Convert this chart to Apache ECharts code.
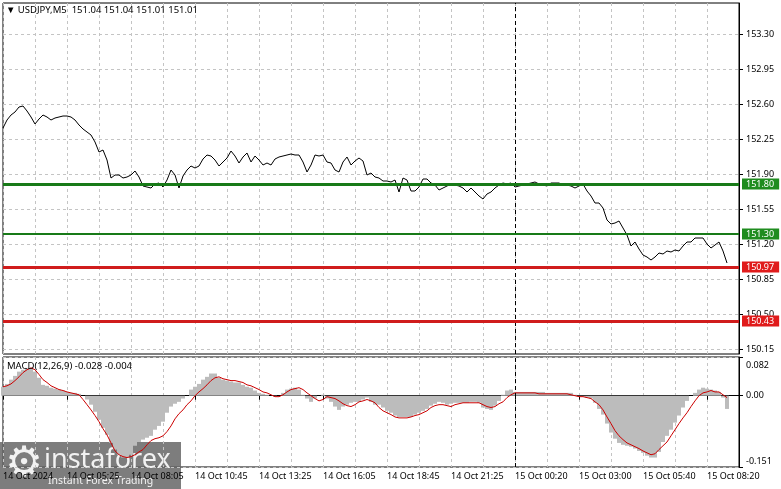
<!DOCTYPE html>
<html>
<head>
<meta charset="utf-8">
<script src="https://cdn.jsdelivr.net/npm/echarts@6.0.0/dist/echarts.min.js"></script>
<style>
html,body{margin:0;padding:0;background:#fff;}
#chart{width:781px;height:489px;}
</style>
</head>
<body>
<div id="chart"></div>
<script>
// ---- data (10-minute samples, 2 M5 bars each) ----
const symbolTitle = 'USDJPY,M5';
const ohlc = [151.04, 151.04, 151.01, 151.01];
const macdTitle = 'MACD(12,26,9)';
const macdLast = [-0.028, -0.004];

const timeLabels = ['14 Oct 2024','14 Oct 05:25','14 Oct 08:05','14 Oct 10:45','14 Oct 13:25','14 Oct 16:05',
  '14 Oct 18:45','14 Oct 21:25','15 Oct 00:20','15 Oct 03:00','15 Oct 05:40','15 Oct 08:20'];
const labelEvery = 16;
const gridEvery = 8;
const slotCount = 185;
const separatorIndex = 128;

const priceTicks = [150.15, 150.50, 150.85, 151.20, 151.55, 151.90, 152.25, 152.60, 152.95, 153.30];
const macdTicks = [-0.151, 0, 0.082];

const prices = [
152.36,152.44,152.49,152.52,152.57,152.58,152.53,152.47,152.40,152.45,
152.49,152.47,152.44,152.46,152.47,152.48,152.48,152.47,152.44,152.39,
152.35,152.32,152.29,152.22,152.12,152.14,152.04,151.86,151.89,151.89,
151.86,151.87,151.89,151.93,151.87,151.78,151.77,151.76,151.80,151.81,
151.77,151.84,151.94,151.89,151.76,151.88,151.94,151.98,151.96,151.98,
152.05,152.09,152.08,152.04,151.98,152.02,152.06,152.13,152.08,152.01,
152.07,152.11,152.02,152.08,152.04,151.99,152.01,151.99,152.05,152.07,
152.08,152.09,152.10,152.09,152.09,152.02,151.92,151.99,152.09,152.08,
152.09,152.02,152.01,151.94,151.92,152.02,152.07,151.99,152.03,152.06,
152.03,151.89,151.91,151.87,151.86,151.83,151.83,151.82,151.84,151.72,
151.86,151.84,151.73,151.73,151.77,151.85,151.85,151.81,151.79,151.74,
151.76,151.78,151.80,151.79,151.78,151.76,151.72,151.76,151.72,151.68,
151.65,151.70,151.72,151.76,151.79,151.81,151.80,151.81,151.77,151.78,
151.79,151.80,151.81,151.82,151.80,151.79,151.78,151.81,151.81,151.81,
151.79,151.79,151.78,151.76,151.78,151.80,151.73,151.68,151.61,151.61,
151.56,151.44,151.40,151.41,151.43,151.36,151.29,151.18,151.22,151.15,
151.09,151.07,151.04,151.07,151.11,151.10,151.13,151.12,151.14,151.13,
151.18,151.22,151.22,151.26,151.26,151.26,151.20,151.16,151.19,151.22,
151.13,151.01];

const macdMain = [
0.019,0.025,0.034,0.042,0.051,0.055,0.059,0.059,0.051,0.038,
0.023,0.021,0.017,0.015,0.013,0.011,0.008,0.006,0.006,0.004,
0,-0.008,-0.019,-0.034,-0.051,-0.068,-0.083,-0.100,-0.114,-0.125,
-0.131,-0.131,-0.125,-0.106,-0.098,-0.093,-0.089,-0.085,-0.072,-0.064,
-0.055,-0.036,-0.023,-0.017,-0.013,-0.006,0,0.013,0.019,0.025,
0.034,0.040,0.047,0.047,0.038,0.034,0.032,0.030,0.028,0.028,
0.023,0.019,0.017,0.011,0.006,0.004,0.002,0,-0.002,0,
0.006,0.013,0.015,0.017,0.013,0.002,-0.006,-0.013,-0.006,0,
0.002,-0.006,-0.013,-0.023,-0.030,-0.023,-0.019,-0.015,-0.013,-0.013,
-0.008,-0.004,-0.013,-0.019,-0.019,-0.025,-0.032,-0.036,-0.042,-0.045,
-0.045,-0.045,-0.045,-0.040,-0.036,-0.032,-0.028,-0.021,-0.017,-0.013,
-0.015,-0.019,-0.017,-0.015,-0.015,-0.015,-0.015,-0.013,-0.013,-0.015,
-0.025,-0.028,-0.030,-0.021,-0.011,0.002,0.011,0.013,0.008,0.008,
0.008,0.008,0.008,0.008,0.008,0.008,0.006,0.006,0.006,0.006,
0.006,0.006,0.006,0.002,-0.002,-0.002,-0.004,-0.006,-0.015,-0.028,
-0.040,-0.059,-0.078,-0.091,-0.100,-0.104,-0.106,-0.108,-0.112,-0.117,
-0.121,-0.127,-0.131,-0.131,-0.119,-0.098,-0.085,-0.072,-0.057,-0.042,
-0.025,-0.011,0,0.006,0.013,0.017,0.015,0.013,0.011,0.008,
-0.004,-0.028];

const macdSignal = [
0.019,0.021,0.025,0.032,0.040,0.049,0.055,0.059,0.055,0.045,
0.034,0.028,0.021,0.017,0.013,0.011,0.008,0.006,0.004,0.002,
-0.008,-0.019,-0.030,-0.042,-0.055,-0.070,-0.083,-0.100,-0.117,-0.125,
-0.129,-0.131,-0.129,-0.125,-0.119,-0.114,-0.104,-0.095,-0.091,-0.089,
-0.085,-0.076,-0.064,-0.049,-0.038,-0.030,-0.019,-0.011,0,0.008,
0.015,0.023,0.032,0.038,0.040,0.036,0.034,0.032,0.032,0.030,
0.028,0.023,0.021,0.017,0.013,0.008,0.006,0.002,-0.002,-0.002,
0.002,0.008,0.013,0.015,0.017,0.013,0.006,0,-0.006,-0.011,
-0.008,-0.002,-0.004,-0.006,-0.011,-0.017,-0.021,-0.023,-0.019,-0.013,
-0.011,-0.008,-0.011,-0.015,-0.025,-0.032,-0.036,-0.040,-0.045,-0.047,
-0.047,-0.047,-0.045,-0.042,-0.040,-0.036,-0.032,-0.025,-0.021,-0.019,
-0.019,-0.021,-0.023,-0.019,-0.017,-0.015,-0.015,-0.015,-0.015,-0.015,
-0.019,-0.023,-0.025,-0.023,-0.017,-0.013,-0.004,0.002,0.006,0.006,
0.006,0.006,0.006,0.006,0.004,0.004,0.004,0.004,0.004,0.004,
0.004,0.004,0.002,0,-0.002,-0.002,-0.004,-0.006,-0.013,-0.019,
-0.030,-0.045,-0.059,-0.074,-0.085,-0.093,-0.100,-0.104,-0.108,-0.112,
-0.117,-0.121,-0.125,-0.123,-0.114,-0.106,-0.098,-0.085,-0.072,-0.059,
-0.047,-0.036,-0.023,-0.011,0,0.006,0.008,0.011,0.008,0.008,
0.002,-0.004];

const priceAxis = {min: 150.10, max: 153.61};
const macdAxis = {min: -0.151, max: 0.082};

const levelValues = [151.80, 151.30, 150.97, 150.43];
const levelKinds = ['green', 'green', 'red', 'red'];
const levelWidths = [3, 2, 3, 3];
const bidValue = 151.01;

// ---- build ----
const categories = Array.from({length: slotCount}, (_, i) => String(i));
const FONT = 'Noto Sans';
const kindLine = {green: '#187a18', red: '#d01c1c'};
const kindBox = {green: '#1f8c1f', red: '#e01b1b'};

function tagLabel(bg) {
  return {
    show: true, position: 'end', distance: 3,
    formatter: p => Number(p.value).toFixed(2),
    color: '#fff', backgroundColor: bg, padding: [1, 5, 0, 4],
    fontFamily: FONT, fontSize: 9, lineHeight: 10
  };
}

const levelMarks = [{
  yAxis: bidValue,
  lineStyle: {opacity: 0},
  label: tagLabel('#000')
}];
levelValues.forEach((v, i) => {
  levelMarks.push({
    yAxis: v,
    lineStyle: {color: kindLine[levelKinds[i]], width: levelWidths[i], type: 'solid'},
    label: tagLabel(kindBox[levelKinds[i]])
  });
});
const sepMark = {
  xAxis: categories[separatorIndex],
  lineStyle: {color: '#000', width: 1, type: [4, 3]},
  label: {show: false}
};

const dashed = {show: true, lineStyle: {color: '#c4c4c4', type: [3, 3], width: 1}};
const vSplit = {show: true, interval: (i) => i % gridEvery === 0, lineStyle: dashed.lineStyle};

const chart = echarts.init(document.getElementById('chart'), null, {renderer: 'canvas'});
chart.setOption({
  animation: false,
  backgroundColor: '#fff',
  textStyle: {fontFamily: FONT},
  title: [
    {text: '▼ ' + symbolTitle + '  ' + ohlc.map(v => v.toFixed(2)).join(' '),
     left: 6, top: 5, padding: 0,
     textStyle: {fontFamily: FONT, fontSize: 9.5, fontWeight: 'normal', color: '#000'}},
    {text: macdTitle + ' ' + macdLast.map(v => v.toFixed(3)).join(' '),
     left: 7, top: 361, padding: 0,
     textStyle: {fontFamily: FONT, fontSize: 9.5, fontWeight: 'normal', color: '#000'}}
  ],
  grid: [
    {left: 3, top: 3, width: 736, height: 351, show: true, borderColor: '#000', borderWidth: 1, backgroundColor: 'transparent'},
    {left: 3, top: 357, width: 736, height: 110, show: true, borderColor: '#000', borderWidth: 1, backgroundColor: 'transparent'}
  ],
  xAxis: [
    {type: 'category', gridIndex: 0, data: categories, boundaryGap: false,
     axisLine: {show: false}, axisTick: {show: false}, axisLabel: {show: false}, splitLine: vSplit},
    {type: 'category', gridIndex: 1, data: categories, boundaryGap: false,
     axisLine: {show: true, lineStyle: {color: '#000'}},
     axisTick: {show: true, interval: (i) => i % labelEvery === 0, length: 4, lineStyle: {color: '#000'}},
     axisLabel: {show: true, interval: (i) => i % labelEvery === 0, align: 'left', margin: 5,
       formatter: (v, idx) => timeLabels[idx / labelEvery] || '',
       fontFamily: FONT, fontSize: 9, color: '#000'},
     splitLine: vSplit}
  ],
  yAxis: [
    {type: 'value', gridIndex: 0, position: 'right', min: priceAxis.min, max: priceAxis.max,
     axisLine: {show: true, lineStyle: {color: '#000'}},
     axisTick: {show: true, length: 4, customValues: priceTicks, lineStyle: {color: '#000'}},
     axisLabel: {show: true, margin: 7, customValues: priceTicks,
       formatter: v => v.toFixed(2), fontFamily: FONT, fontSize: 9, color: '#000'},
     splitLine: dashed},
    {type: 'value', gridIndex: 1, position: 'right', min: macdAxis.min, max: macdAxis.max,
     axisLine: {show: true, lineStyle: {color: '#000'}},
     axisTick: {show: true, length: 4, customValues: macdTicks, lineStyle: {color: '#000'}},
     axisLabel: {show: true, margin: 7, customValues: macdTicks,
       formatter: v => Math.abs(v) < 1e-9 ? '0.00' : (v > 0 ? '{t|' + v.toFixed(3) + '}' : '{b|' + v.toFixed(3) + '}'),
       rich: {t: {padding: [16, 0, 0, 0], fontFamily: FONT, fontSize: 9, color: '#000'},
              b: {padding: [0, 0, 12, 0], fontFamily: FONT, fontSize: 9, color: '#000'}},
       fontFamily: FONT, fontSize: 9, color: '#000'},
     splitLine: dashed}
  ],
  series: [
    {type: 'line', name: 'price', xAxisIndex: 0, yAxisIndex: 0, data: prices, clip: false,
     showSymbol: false, symbol: 'none', lineStyle: {color: '#000', width: 1}, z: 3,
     markLine: {silent: true, symbol: ['none', 'none'], animation: false, data: [sepMark].concat(levelMarks)}},
    {type: 'bar', name: 'MACD', xAxisIndex: 1, yAxisIndex: 1, data: macdMain, barWidth: '100%',
     itemStyle: {color: '#bcbcbc'}, z: 2,
     markLine: {silent: true, symbol: ['none', 'none'], animation: false, data: [sepMark]}},
    {type: 'line', name: 'Signal', xAxisIndex: 1, yAxisIndex: 1, data: macdSignal,
     showSymbol: false, symbol: 'none', lineStyle: {color: '#cc0000', width: 1}, z: 3}
  ],
  graphic: [
    {type: 'group', z: 100, children: [
      {type: 'rect', shape: {x: 0, y: 442, width: 181, height: 47}, style: {fill: 'rgba(100,100,100,0.84)'}},
      {type: 'text', x: 24, y: 465, style: {text: '⚙', fontFamily: 'DejaVu Sans', fontSize: 42, fill: '#f2f2f2', align: 'center', verticalAlign: 'middle'}},
      {type: 'text', x: 44, y: 474, style: {text: 'instaforex', fontFamily: FONT, fontSize: 27, fill: '#f2f2f2', align: 'left', verticalAlign: 'bottom'}},
      {type: 'text', x: 48, y: 481, style: {text: 'Instant Forex Trading', fontFamily: FONT, fontSize: 10.5, fill: '#f2f2f2', align: 'left', verticalAlign: 'middle'}}
    ]}
  ]
});
</script>
</body>
</html>
